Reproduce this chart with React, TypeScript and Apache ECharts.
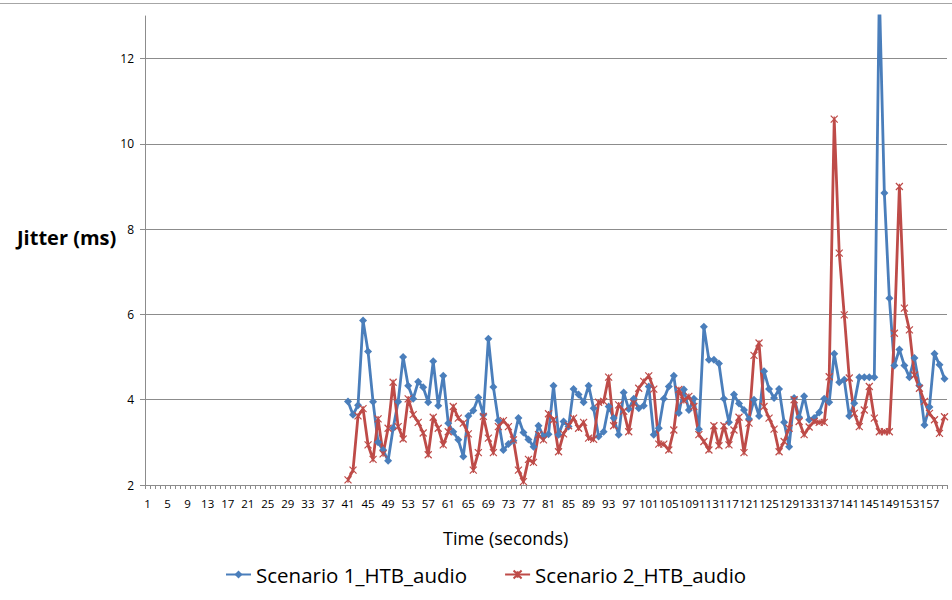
import React, { useEffect, useRef } from "react";
import * as echarts from "echarts";

// Time axis: one category per second, 1..160
const seconds: string[] = Array.from({ length: 160 }, (_, i) => String(i + 1));

// Both captures start at second 41
const FIRST_SECOND = 41;

// Jitter (ms), seconds 41..160
const scenario1: number[] = [
  3.96, 3.65, 3.87, 5.86, 5.13, 3.95, 3.0, 2.82, 2.57, 3.33,
  3.95, 5.0, 4.33, 4.02, 4.42, 4.29, 3.94, 4.9, 3.86, 4.56,
  3.45, 3.25, 3.06, 2.67, 3.62, 3.75, 4.05, 3.65, 5.43, 4.3,
  3.51, 2.82, 2.96, 3.04, 3.57, 3.23, 3.07, 2.9, 3.39, 3.14,
  3.19, 4.33, 3.18, 3.49, 3.37, 4.25, 4.12, 3.94, 4.33, 3.8,
  3.14, 3.25, 3.84, 3.57, 3.18, 4.17, 3.78, 4.02, 3.8, 3.86,
  4.31, 3.18, 3.33, 4.02, 4.31, 4.56, 3.69, 4.24, 3.76, 4.02,
  3.31, 5.71, 4.94, 4.94, 4.85, 4.02, 3.47, 4.12, 3.91, 3.76,
  3.55, 4.0, 3.62, 4.67, 4.25, 4.04, 4.25, 3.47, 2.9, 4.04,
  3.59, 4.08, 3.53, 3.57, 3.7, 4.02, 3.94, 5.08, 4.41, 4.47,
  3.62, 3.92, 4.53, 4.53, 4.53, 4.53, 13.6, 8.85, 6.38, 4.8,
  5.18, 4.8, 4.53, 4.98, 4.33, 3.41, 3.83, 5.08, 4.82, 4.49,
];

const scenario2: number[] = [
  2.12, 2.35, 3.62, 3.79, 2.94, 2.6, 3.55, 2.73, 3.33, 4.41,
  3.37, 3.08, 4.02, 3.65, 3.47, 3.22, 2.71, 3.59, 3.33, 2.94,
  3.25, 3.84, 3.57, 3.45, 3.2, 2.35, 2.76, 3.61, 3.1, 2.76,
  3.37, 3.51, 3.37, 3.06, 2.35, 2.08, 2.6, 2.53, 3.18, 3.06,
  3.67, 3.53, 2.78, 3.2, 3.39, 3.57, 3.33, 3.47, 3.1, 3.07,
  3.94, 3.96, 4.53, 3.39, 3.88, 3.73, 3.25, 3.92, 4.27, 4.43,
  4.56, 4.25, 2.96, 2.96, 2.82, 3.29, 4.24, 3.98, 4.08, 3.84,
  3.18, 3.02, 2.82, 3.39, 2.92, 3.39, 2.94, 3.29, 3.59, 2.76,
  3.45, 5.04, 5.33, 3.84, 3.57, 3.31, 2.78, 3.02, 3.33, 4.0,
  3.49, 3.18, 3.36, 3.49, 3.47, 3.47, 4.54, 10.58, 7.44, 5.99,
  4.51, 3.68, 3.37, 3.76, 4.31, 3.57, 3.25, 3.25, 3.25, 5.56,
  9.0, 6.15, 5.64, 4.58, 4.27, 3.96, 3.68, 3.53, 3.21, 3.6,
];

const seriesNames = ["Scenario 1_HTB_audio", "Scenario 2_HTB_audio"];
const yTicks = { min: 2, max: 13, interval: 2 };

const padded = (vals: number[]) =>
  seconds.map((_, i) => {
    const k = i + 1 - FIRST_SECOND;
    return k >= 0 && k < vals.length ? vals[k] : null;
  });

const FONT = "'Open Sans', Lato, sans-serif";
const BLUE = "#4A7EBB";
const RED = "#BE4B48";
const GRID = "#8c8c8c";

export default function App() {
  const ref = useRef<HTMLDivElement>(null);

  useEffect(() => {
    if (!ref.current) return;
    const chart = echarts.init(ref.current, null, { renderer: "svg" });
    chart.setOption({
      animation: false,
      backgroundColor: "#ffffff",
      textStyle: { fontFamily: FONT },
      grid: { left: 145, right: 5, top: 16, bottom: 115, containLabel: false },
      legend: {
        left: 225,
        top: 564,
        padding: 0,
        itemWidth: 25,
        itemHeight: 10,
        itemGap: 37,
        textStyle: { fontSize: 20.5, color: "#000", fontFamily: FONT },
        data: seriesNames,
      },
      xAxis: {
        type: "category",
        data: seconds,
        boundaryGap: true,
        axisLine: { lineStyle: { color: GRID, width: 1 } },
        axisTick: {
          show: true,
          interval: 0,
          length: 4,
          lineStyle: { color: GRID },
        },
        axisLabel: {
          interval: 3,
          fontSize: 11.5,
          color: "#000",
          margin: 12,
          hideOverlap: false,
          fontFamily: FONT,
        },
        splitLine: { show: false },
      },
      yAxis: {
        type: "value",
        min: yTicks.min,
        max: yTicks.max,
        interval: yTicks.interval,
        axisLine: { show: true, lineStyle: { color: GRID, width: 1 } },
        axisTick: { show: true, length: 5, lineStyle: { color: GRID } },
        axisLabel: {
          fontSize: 12,
          color: "#000",
          margin: 11,
          showMaxLabel: false,
          fontFamily: FONT,
        },
        splitLine: {
          show: true,
          showMaxLine: false,
          lineStyle: { color: GRID, width: 1 },
        },
      },
      graphic: [
        {
          type: "line",
          shape: { x1: 0, y1: 3.5, x2: 952, y2: 3.5 },
          style: { stroke: "#a6a6a6", lineWidth: 1 },
        },
        {
          type: "text",
          left: 17,
          top: 227,
          style: {
            text: "Jitter (ms)",
            font: `bold 20px ${FONT}`,
            fill: "#000",
          },
        },
        {
          type: "text",
          left: 443,
          top: 529,
          style: {
            text: "Time (seconds)",
            font: `18px ${FONT}`,
            fill: "#000",
          },
        },
      ],
      series: [
        {
          name: seriesNames[0],
          type: "line",
          data: padded(scenario1),
          connectNulls: false,
          clip: true,
          showAllSymbol: true,
          symbol: "diamond",
          symbolSize: 8,
          lineStyle: { color: BLUE, width: 2.8 },
          itemStyle: { color: BLUE },
        },
        {
          name: seriesNames[1],
          type: "line",
          data: padded(scenario2),
          connectNulls: false,
          clip: true,
          showAllSymbol: true,
          symbol: "path://M0,0L10,10M10,0L0,10M5,1L5,9",
          symbolSize: 7,
          lineStyle: { color: RED, width: 2.8 },
          itemStyle: { color: "none", borderColor: RED, borderWidth: 1.2 },
        },
      ],
    });
    return () => chart.dispose();
  }, []);

  return (
    <div
      ref={ref}
      style={{ position: "fixed", left: 0, top: 0, width: 952, height: 600 }}
    />
  );
}
